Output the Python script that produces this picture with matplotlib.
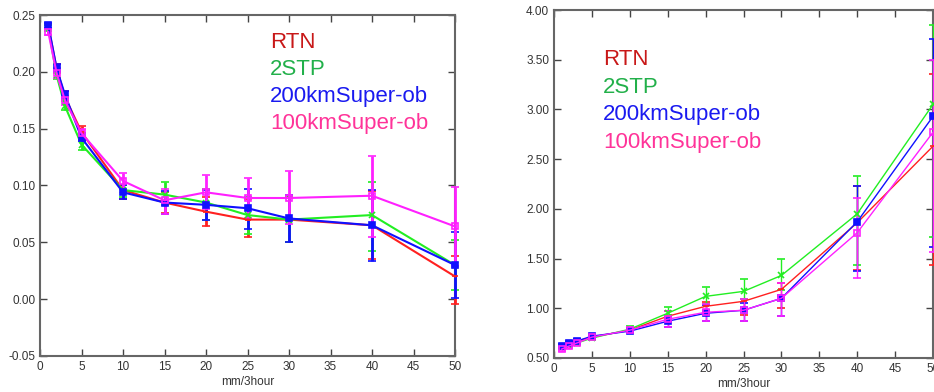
import matplotlib
matplotlib.use("Agg")
import matplotlib.pyplot as plt
import numpy as np

plt.rcParams['font.family'] = ['Liberation Sans', 'DejaVu Sans']

# rain rate bins (mm/3hour)
x = [1, 2, 3, 5, 10, 15, 20, 25, 30, 40, 50]
names = ["RTN", "2STP", "200kmSuper-ob", "100kmSuper-ob"]

# left panel: values, error bar low / high
left_val = {
    "RTN":           [0.240, 0.203, 0.178, 0.147, 0.096, 0.085, 0.077, 0.070, 0.070, 0.065, 0.020],
    "2STP":          [0.239, 0.197, 0.170, 0.136, 0.096, 0.092, 0.085, 0.074, 0.070, 0.074, 0.030],
    "200kmSuper-ob": [0.241, 0.203, 0.180, 0.142, 0.094, 0.085, 0.083, 0.080, 0.071, 0.065, 0.030],
    "100kmSuper-ob": [0.235, 0.199, 0.175, 0.146, 0.104, 0.087, 0.094, 0.089, 0.089, 0.091, 0.064],
}
left_lo = {
    "RTN":           [0.238, 0.199, 0.174, 0.142, 0.088, 0.076, 0.064, 0.055, 0.050, 0.035, -0.004],
    "2STP":          [0.236, 0.194, 0.166, 0.131, 0.090, 0.083, 0.070, 0.057, 0.050, 0.042, 0.008],
    "200kmSuper-ob": [0.239, 0.200, 0.176, 0.139, 0.088, 0.075, 0.070, 0.062, 0.050, 0.034, 0.001],
    "100kmSuper-ob": [0.232, 0.195, 0.171, 0.142, 0.097, 0.075, 0.079, 0.071, 0.066, 0.055, 0.029],
}
left_hi = {
    "RTN":           [0.242, 0.207, 0.183, 0.152, 0.100, 0.094, 0.090, 0.088, 0.090, 0.095, 0.038],
    "2STP":          [0.241, 0.200, 0.174, 0.141, 0.100, 0.103, 0.097, 0.090, 0.090, 0.103, 0.052],
    "200kmSuper-ob": [0.243, 0.207, 0.183, 0.146, 0.100, 0.095, 0.096, 0.097, 0.092, 0.096, 0.059],
    "100kmSuper-ob": [0.238, 0.203, 0.179, 0.150, 0.111, 0.097, 0.109, 0.107, 0.113, 0.126, 0.099],
}

# right panel: values, error bar low / high
right_val = {
    "RTN":           [0.61, 0.64, 0.67, 0.71, 0.78, 0.92, 1.02, 1.07, 1.19, 1.86, 2.63],
    "2STP":          [0.61, 0.63, 0.65, 0.70, 0.79, 0.95, 1.12, 1.17, 1.33, 1.95, 3.05],
    "200kmSuper-ob": [0.62, 0.65, 0.67, 0.72, 0.77, 0.87, 0.95, 0.98, 1.10, 1.87, 2.93],
    "100kmSuper-ob": [0.59, 0.62, 0.65, 0.71, 0.78, 0.89, 0.96, 0.98, 1.10, 1.76, 2.77],
}
right_lo = {
    "RTN":           [0.60, 0.62, 0.65, 0.69, 0.75, 0.86, 0.94, 0.93, 1.00, 1.39, 1.44],
    "2STP":          [0.60, 0.62, 0.64, 0.68, 0.76, 0.93, 1.04, 1.09, 1.18, 1.44, 1.72],
    "200kmSuper-ob": [0.60, 0.63, 0.65, 0.70, 0.75, 0.81, 0.87, 0.87, 0.92, 1.38, 1.62],
    "100kmSuper-ob": [0.57, 0.60, 0.63, 0.69, 0.75, 0.81, 0.87, 0.87, 0.92, 1.30, 1.57],
}
right_hi = {
    "RTN":           [0.62, 0.66, 0.69, 0.73, 0.80, 0.97, 1.06, 1.09, 1.25, 2.23, 3.36],
    "2STP":          [0.62, 0.64, 0.67, 0.72, 0.82, 1.01, 1.21, 1.29, 1.50, 2.33, 3.85],
    "200kmSuper-ob": [0.64, 0.67, 0.69, 0.74, 0.79, 0.92, 1.03, 1.05, 1.12, 2.23, 3.71],
    "100kmSuper-ob": [0.61, 0.64, 0.67, 0.73, 0.81, 0.97, 1.04, 1.09, 1.25, 2.11, 3.50],
}

line_colors = {"RTN": "#ff2020", "2STP": "#22ee22", "200kmSuper-ob": "#1010ff", "100kmSuper-ob": "#ff20ff"}
text_colors = {"RTN": "#c81818", "2STP": "#22b04a", "200kmSuper-ob": "#1a1af0", "100kmSuper-ob": "#ff3399"}
markers = {"RTN": "_", "2STP": "x", "200kmSuper-ob": "s", "100kmSuper-ob": "s"}


def style_axes(ax, ylim, yticks):
    ax.set_xlim(0, 50)
    ax.set_ylim(*ylim)
    ax.set_xticks(range(0, 51, 5))
    ax.set_yticks(yticks)
    ax.set_yticklabels(["%.2f" % t for t in yticks])
    ax.tick_params(direction="in", top=True, right=True, length=5, width=1,
                   labelsize=8.5, colors="#444444", labelcolor="#333333")
    for s in ax.spines.values():
        s.set_color("#666666")
        s.set_linewidth(1.5)
    ax.set_xlabel("mm/3hour", fontsize=8.5, color="#333333", labelpad=2)


def draw_panel(ax, vals, lo, hi, lw, elw, ms):
    for n in names:
        v = np.array(vals[n])
        err = [v - np.array(lo[n]), np.array(hi[n]) - v]
        filled = n != "100kmSuper-ob"
        ax.errorbar(x, v, yerr=err, color=line_colors[n], lw=lw, elinewidth=elw,
                    capsize=3, capthick=elw, marker=markers[n], ms=ms,
                    mfc=line_colors[n] if filled else "none", mec=line_colors[n],
                    mew=1.2, clip_on=False, zorder=3)


fig = plt.figure(figsize=(9.34, 3.92), dpi=100)

ax1 = fig.add_axes([40 / 934, 36 / 392, 415 / 934, 341 / 392])
draw_panel(ax1, left_val, left_lo, left_hi, 1.5, 2.0, 5)
style_axes(ax1, (-0.05, 0.25), [-0.05, 0.0, 0.05, 0.10, 0.15, 0.20, 0.25])
for i, n in enumerate(names):
    ax1.text(0.555, 0.92 - i * 0.079, n, transform=ax1.transAxes,
             color=text_colors[n], fontsize=16, va="center")

ax2 = fig.add_axes([554 / 934, 34 / 392, 379 / 934, 348 / 392])
draw_panel(ax2, right_val, right_lo, right_hi, 1.0, 1.0, 4)
style_axes(ax2, (0.5, 4.0), [0.5, 1.0, 1.5, 2.0, 2.5, 3.0, 3.5, 4.0])
for i, n in enumerate(names):
    ax2.text(0.13, 0.857 - i * 0.079, n, transform=ax2.transAxes,
             color=text_colors[n], fontsize=16, va="center")

fig.savefig("out.png", dpi=100)
